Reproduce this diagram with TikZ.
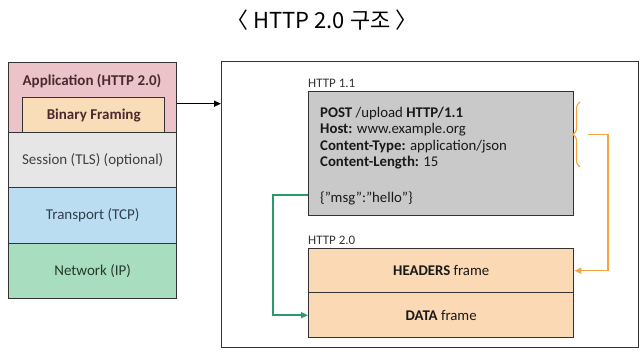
\documentclass[tikz,border=0pt]{standalone}
\usepackage{fontspec}
\setmainfont{Carlito}
\newfontfamily\krfont{Noto Sans CJK KR}
\usetikzlibrary{arrows.meta,decorations.pathreplacing}

\definecolor{edge}{HTML}{333333}
\definecolor{appfill}{HTML}{EBC3C8}
\definecolor{framefill}{HTML}{F9DDB8}
\definecolor{tlsfill}{HTML}{E6E6E6}
\definecolor{tcpfill}{HTML}{BBDDF2}
\definecolor{ipfill}{HTML}{A9DDC0}
\definecolor{msgfill}{HTML}{C9C9C9}
\definecolor{h2fill}{HTML}{FAD9B4}
\definecolor{hdrline}{HTML}{F2A540}
\definecolor{bodyline}{HTML}{2A9A6A}
\definecolor{apptext}{HTML}{4A2A2E}
\definecolor{tcptext}{HTML}{2F3E4F}
\definecolor{iptext}{HTML}{233A2C}

\tikzset{
  layer/.style={draw=edge, line width=1.4pt, anchor=north west, inner sep=0pt},
  lbl/.style={font=\fontsize{15}{17}\selectfont, text=black!85},
  code/.style={font=\fontsize{14.8}{17}\selectfont, anchor=base west, inner sep=0pt, text=black!90},
  tag/.style={font=\fontsize{13}{15}\selectfont, anchor=base west, inner sep=0pt, text=black!80},
  link/.style={line width=1.5pt, -{Triangle[length=7pt,width=6pt]}},
}

\begin{document}
\begin{tikzpicture}[x=1pt,y=-1pt]
\useasboundingbox (0,0) rectangle (641,351);

% title
\node (title) at (322,20) {\krfont\fontsize{22}{25}\selectfont 〈 HTTP 2.0 구조 〉};

% protocol stack
\node[layer, fill=appfill, minimum width=168pt, minimum height=70pt] (app) at (8,62) {};
\node[lbl, font=\bfseries\fontsize{15}{17}\selectfont, text=apptext] (applbl) at (92,81) {Application (HTTP 2.0)};
\node[layer, fill=framefill, minimum width=142pt, minimum height=35pt] (bf) at (22,97) {};
\node[lbl, font=\bfseries\fontsize{15}{17}\selectfont, text=apptext] (bflbl) at (bf.center) {Binary Framing};
\node[layer, fill=tlsfill, minimum width=168pt, minimum height=55pt] (tls) at (8,132) {};
\node[lbl, text=black!75] (tlslbl) at (tls.center) {Session (TLS) (optional)};
\node[layer, fill=tcpfill, minimum width=168pt, minimum height=56pt] (tcp) at (8,187) {};
\node[lbl, text=tcptext] (tcplbl) at (tcp.center) {Transport (TCP)};
\node[layer, fill=ipfill, minimum width=168pt, minimum height=55pt] (ip) at (8,243) {};
\node[lbl, text=iptext] (iplbl) at (ip.center) {Network (IP)};

% detail frame
\node[draw=edge, line width=1.2pt, anchor=north west, minimum width=417pt, minimum height=286pt, inner sep=0pt] (big) at (221,61) {};
\draw[line width=1.4pt, -{Triangle[length=7pt,width=6pt]}] ([yshift=-6pt]app.east) -- ([yshift=-6pt]app.east -| big.west);

% HTTP/1.1 message
\node[tag] (t11) at (308,87) {HTTP 1.1};
\node[layer, fill=msgfill, minimum width=265pt, minimum height=124pt] (msg) at (308,91) {};
\node[code] (l1) at (320,117) {\textbf{POST} /upload \textbf{HTTP/1.1}};
\node[code] (l2) at (320,133) {\textbf{Host:} www.example.org};
\node[code] (l3) at (320,150) {\textbf{Content-Type:} application/json};
\node[code] (l4) at (320,166) {\textbf{Content-Length:} 15};
\node[code] (l5) at (320,202) {\{"msg":"hello"\}};

% HTTP/2 frames
\node[tag] (t20) at (308,244.5) {HTTP 2.0};
\node[layer, fill=h2fill, minimum width=265pt, minimum height=44pt] (hdr) at (308,248) {};
\node[layer, fill=h2fill, minimum width=265pt, minimum height=45pt] (data) at (308,292) {};
\node[code, anchor=center] (hdrlbl) at (hdr.center) {\textbf{HEADERS} frame};
\node[code, anchor=center] (datalbl) at (data.center) {\textbf{DATA} frame};

% header block brace and mapping
\coordinate (bt) at (580,102);
\coordinate (bb) at (580,167);
\draw[hdrline, line width=1.1pt, decorate, decoration={brace, amplitude=7pt, mirror}] (bt) -- (bb);
\coordinate (tip) at (588,134.5);
\coordinate (hbend) at (608,134.5);
\draw[link, hdrline] (tip) -- (hbend) |- (hdr.east);

% body mapping
\coordinate (gbend) at (273,195);
\draw[link, bodyline] (msg.west |- gbend) -- (gbend) |- (data.west);
\end{tikzpicture}
\end{document}
